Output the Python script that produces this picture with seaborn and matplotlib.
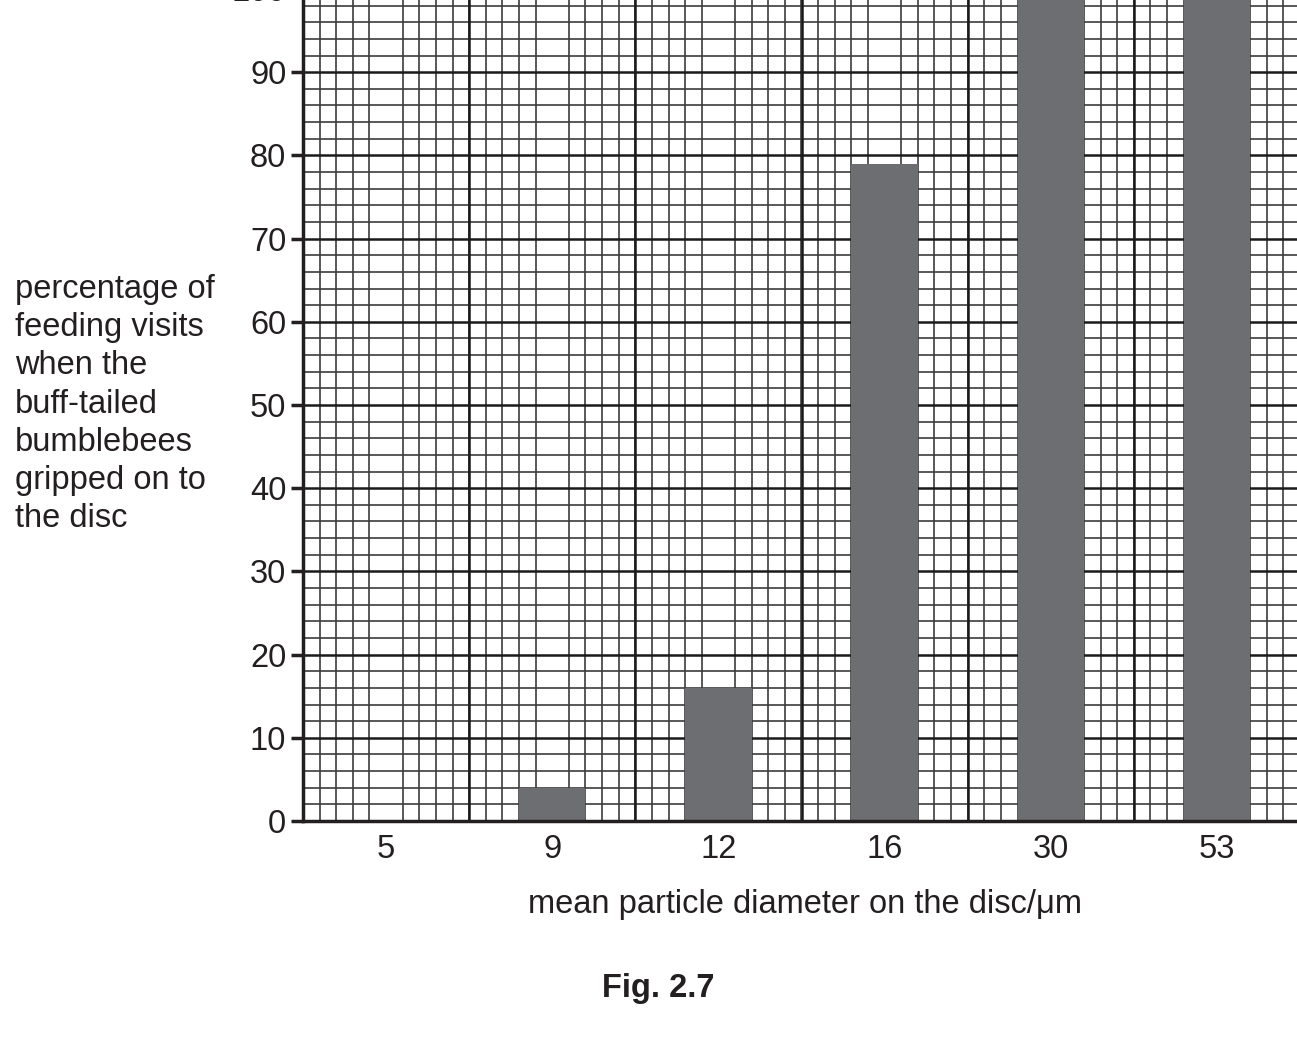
import numpy as np
import pandas as pd
import seaborn as sns
import matplotlib.pyplot as plt
from matplotlib.ticker import MultipleLocator, FixedLocator

# data
diameters = ['5', '9', '12', '16', '30', '53']
grip_percent = [0, 4, 16, 79, 100, 100]

df = pd.DataFrame({'diameter': diameters, 'percent': grip_percent})

sns.set_theme(style='white')
plt.rcParams['font.family'] = ['Liberation Sans', 'DejaVu Sans']

fig = plt.figure(figsize=(12.97, 10.47), dpi=100)
W, H = 1297, 1047
# axes top runs a little past the top of the figure, like the cropped scan
left, right, bottom, top = 303, 1300, 821, -11
ax = fig.add_axes([left / W, (H - bottom) / H, (right - left) / W, (bottom - top) / H])

sns.barplot(data=df, x='diameter', y='percent', color='#6d6e71', width=0.4,
            saturation=1, linewidth=0, edgecolor='none', ax=ax, zorder=3)

ax.set_xlim(-0.5, 5.5)
ax.set_ylim(0, 100)

# graph paper grid
ax.set_axisbelow(True)
ax.yaxis.set_major_locator(MultipleLocator(10))
ax.yaxis.set_minor_locator(MultipleLocator(2))
ax.xaxis.set_major_locator(FixedLocator(range(len(diameters))))
ax.xaxis.set_minor_locator(FixedLocator(np.arange(-0.5, 5.55, 0.1)))
ax.grid(which='minor', axis='both', color='#3c3c3c', linewidth=1.2, zorder=0)
for yv in range(0, 101, 10):
    ax.axhline(yv, color='#1a1a1a', linewidth=1.8, zorder=1)
for xv in np.arange(-0.5, 5.6, 1.0):
    ax.axvline(xv, color='#1a1a1a', linewidth=1.8, zorder=1)

ax.set_xticks(range(len(diameters)))
ax.set_xticklabels(diameters)
ax.tick_params(axis='x', which='both', length=0, labelsize=23.5, pad=9, colors='#231f20')
ax.tick_params(axis='y', which='major', length=9, width=2.5, labelsize=23.5, pad=3,
               colors='#231f20', left=True)
ax.tick_params(axis='y', which='minor', length=0)

for side in ['top', 'right']:
    ax.spines[side].set_visible(False)
for side in ['left', 'bottom']:
    ax.spines[side].set_color('#231f20')
    ax.spines[side].set_linewidth(2.5)
    ax.spines[side].set_zorder(5)

ax.set_xlabel('')
ax.set_ylabel('')

fig.text(805 / W, 1 - 904 / H, 'mean particle diameter on the disc/\u03bcm',
         ha='center', va='center', fontsize=23.5, color='#231f20')
fig.text(15 / W, 1 - 274 / H,
         'percentage of\nfeeding visits\nwhen the\nbuff-tailed\nbumblebees\ngripped on to\nthe disc',
         ha='left', va='top', fontsize=23.5, color='#231f20', linespacing=1.3)
fig.text(658 / W, 1 - 988 / H, 'Fig. 2.7', ha='center', va='center',
         fontsize=23.5, fontweight='bold', color='#231f20')

fig.savefig('out.png', dpi=100)
